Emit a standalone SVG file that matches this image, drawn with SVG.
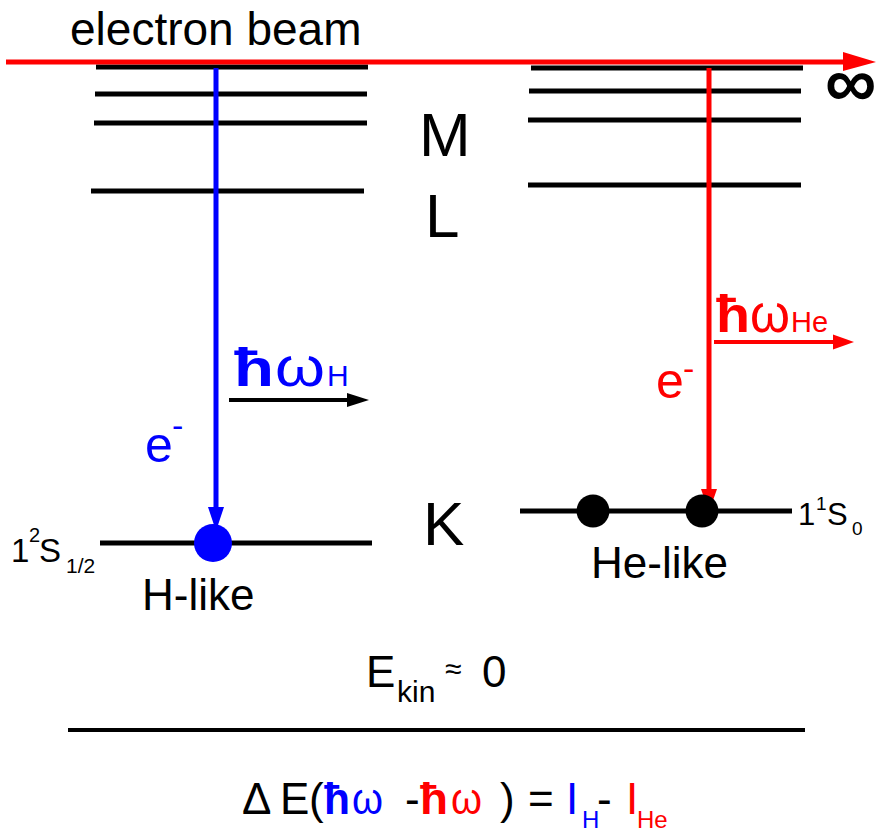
<svg xmlns="http://www.w3.org/2000/svg" width="881" height="834" viewBox="0 0 881 834">
<style>
text{font-family:"Liberation Sans",Arial,sans-serif;}
.lvl{stroke:#000;stroke-width:5;}
.blue{fill:#0000ff;}
.red{fill:#ff0000;}
.blk{fill:#000;}
.big{font-size:62px;}
.lab{font-size:44px;}
.hb{font-weight:bold;}
</style>
<rect width="881" height="834" fill="#fff"/>
<g id="levels-H">
<line class="lvl" x1="96" y1="67" x2="368" y2="67"/>
<line class="lvl" x1="95" y1="94" x2="367" y2="94"/>
<line class="lvl" x1="94" y1="123" x2="367" y2="123"/>
<line class="lvl" x1="91" y1="191" x2="364" y2="191"/>
<line class="lvl" x1="100" y1="543" x2="372" y2="543"/>
</g>
<g id="levels-He">
<line class="lvl" x1="531" y1="68" x2="803" y2="68"/>
<line class="lvl" x1="529" y1="91" x2="801" y2="91"/>
<line class="lvl" x1="528" y1="120" x2="801" y2="120"/>
<line class="lvl" x1="528" y1="185" x2="801" y2="185"/>
<line class="lvl" x1="520" y1="511" x2="792" y2="511"/>
</g>
<g id="connectors">
<line x1="6" y1="62" x2="846" y2="62" stroke="#ff0000" stroke-width="5"/>
<polygon class="red" points="843,52 876,62 843,71"/>
<line x1="216" y1="68" x2="216" y2="510" stroke="#0000ff" stroke-width="5"/>
<polygon class="blue" points="208,507 224,507 216,531"/>
<line x1="709" y1="68" x2="709" y2="492" stroke="#ff0000" stroke-width="5"/>
<polygon class="red" points="701,489 717,489 709,512"/>
<line x1="229" y1="400" x2="350" y2="400" stroke="#000" stroke-width="4"/>
<polygon class="blk" points="347,393 369,400 347,407"/>
<line x1="714" y1="342" x2="836" y2="342" stroke="#ff0000" stroke-width="4"/>
<polygon class="red" points="833,334.5 854,342 833,349.5"/>
</g>
<g id="electrons">
<circle class="blue" cx="213" cy="543" r="19"/>
<circle class="blk" cx="593" cy="511" r="16.5"/>
<circle class="blk" cx="702" cy="511" r="16.5"/>
</g>
<g id="beam-label">
<text x="70" y="45" font-size="46">electron beam</text>
<text x="825" y="107" font-size="72" font-weight="bold">∞</text>
</g>
<g id="shell-labels">
<text class="big" x="419" y="156">M</text>
<text class="big" x="425" y="237">L</text>
<text class="big" x="423" y="545">K</text>
</g>
<g id="photon-H">
<text class="blue hb" x="234" y="386" font-size="54" textLength="40" lengthAdjust="spacingAndGlyphs">ħ</text>
<text class="blue" x="275" y="386" font-size="56" textLength="50" lengthAdjust="spacingAndGlyphs">ω</text>
<text class="blue" x="327" y="386" font-size="30">H</text>
<text class="blue" x="145" y="462" font-size="50">e</text>
<text class="blue" x="172" y="437" font-size="34">-</text>
</g>
<g id="photon-He">
<text class="red hb" x="716" y="332" font-size="52" textLength="34" lengthAdjust="spacingAndGlyphs">ħ</text>
<text class="red" x="750" y="332" font-size="54" textLength="40" lengthAdjust="spacingAndGlyphs">ω</text>
<text class="red" x="791" y="332" font-size="29">He</text>
<text class="red" x="656" y="398" font-size="50">e</text>
<text class="red" x="683" y="380" font-size="34">-</text>
</g>
<g id="state-H">
<text x="11" y="562" font-size="33">1</text>
<text x="29" y="542" font-size="20">2</text>
<text x="39" y="562" font-size="33">S</text>
<text x="66" y="573" font-size="21">1/2</text>
<text class="lab" x="142" y="610">H-like</text>
</g>
<g id="state-He">
<text x="798" y="525" font-size="31">1</text>
<text x="816" y="510" font-size="19">1</text>
<text x="827" y="525" font-size="31">S</text>
<text x="852" y="535" font-size="19">0</text>
<text class="lab" x="591" y="578">He-like</text>
</g>
<g id="ekin">
<text x="366" y="687" font-size="44">E</text>
<text x="397" y="702" font-size="30">kin</text>
<text x="445" y="679" font-size="30">≈</text>
<text x="482" y="687" font-size="44">0</text>
<line x1="68" y1="730" x2="805" y2="730" stroke="#000" stroke-width="4"/>
</g>
<g id="equation" font-size="44">
<text x="242" y="814">Δ</text>
<text x="280" y="814">E</text>
<text x="309" y="814">(</text>
<text class="blue hb" x="324" y="814" textLength="26" lengthAdjust="spacingAndGlyphs">ħ</text>
<text class="blue" x="352" y="814" textLength="31" lengthAdjust="spacingAndGlyphs">ω</text>
<text x="405" y="814">-</text>
<text class="red hb" x="420" y="814" textLength="28" lengthAdjust="spacingAndGlyphs">ħ</text>
<text class="red" x="451" y="814" textLength="31" lengthAdjust="spacingAndGlyphs">ω</text>
<text x="500" y="814">)</text>
<text x="528" y="814">=</text>
<text class="blue" x="566" y="814">I</text>
<text class="blue" x="582" y="828" font-size="24">H</text>
<text x="597" y="814">-</text>
<text class="red" x="626" y="814">I</text>
<text class="red" x="637" y="828" font-size="24">He</text>
</g>
</svg>
